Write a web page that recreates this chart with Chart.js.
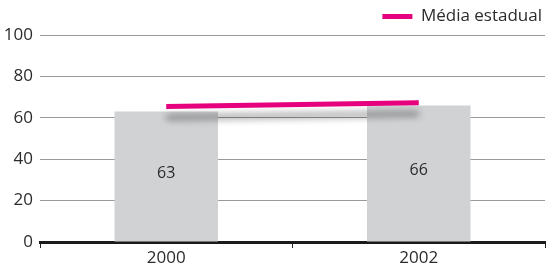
<!DOCTYPE html>
<html>
<head>
<meta charset="utf-8">
<script src="https://cdn.jsdelivr.net/npm/chart.js@4"></script>
<style>
  html, body { margin: 0; padding: 0; background: #fff; }
  #wrap { width: 550px; height: 271px; }
</style>
</head>
<body>
<div id="wrap"><canvas id="myChart"></canvas></div>
<script>
const anos = ['2000', '2002'];
const valoresMunicipio = [63, 66];
const mediaEstadual = [65.5, 67.3];
const ticksY = [0, 20, 40, 60, 80, 100];

const cinza = '#d1d2d4';
const magenta = '#e6007e';
const corTexto = '#2b2b2b';
const fonte = '"Open Sans", "Noto Sans", sans-serif';

// rotulos dentro das barras
const rotulosBarras = {
  id: 'rotulosBarras',
  afterDatasetsDraw(chart) {
    const c = chart.ctx;
    const meta = chart.getDatasetMeta(0);
    c.save();
    c.font = '16px ' + fonte;
    c.fillStyle = corTexto;
    c.textAlign = 'center';
    c.textBaseline = 'middle';
    meta.data.forEach((bar, i) => {
      const y = (bar.y + bar.base) / 2 - 3;
      c.fillText(String(valoresMunicipio[i]), bar.x, y);
    });
    c.restore();
  }
};

// sombra da linha
const sombraLinha = {
  id: 'sombraLinha',
  beforeDatasetDraw(chart, args) {
    if (args.index !== 1) return;
    const c = chart.ctx;
    c.save();
    c.shadowColor = 'rgba(0,0,0,0.4)';
    c.shadowBlur = 7;
    c.shadowOffsetY = 11;
  },
  afterDatasetDraw(chart, args) {
    if (args.index !== 1) return;
    chart.ctx.restore();
  }
};

const ctx = document.getElementById('myChart');
new Chart(ctx, {
  type: 'bar',
  data: {
    labels: anos,
    datasets: [{
      label: 'Município',
      data: valoresMunicipio,
      backgroundColor: cinza,
      borderWidth: 0,
      barPercentage: 0.82,
      categoryPercentage: 0.5,
      order: 2
    }, {
      type: 'line',
      label: 'Média estadual',
      data: mediaEstadual,
      borderColor: magenta,
      backgroundColor: magenta,
      borderWidth: 5,
      borderCapStyle: 'butt',
      pointRadius: 0,
      tension: 0,
      order: 1
    }]
  },
  options: {
    responsive: true,
    maintainAspectRatio: false,
    animation: false,
    layout: { padding: { left: 0, right: 0, top: 0, bottom: 0 } },
    plugins: {
      tooltip: { enabled: false },
      legend: {
        display: true,
        position: 'top',
        align: 'end',
        labels: {
          color: corTexto,
          font: { family: fonte, size: 17 },
          boxWidth: 30,
          boxHeight: 5,
          padding: 8,
          generateLabels: (chart) => [{
            text: 'Média estadual',
            fillStyle: magenta,
            strokeStyle: magenta,
            lineWidth: 0,
            datasetIndex: 1,
            fontColor: corTexto
          }]
        }
      }
    },
    scales: {
      x: {
        offset: true,
        grid: {
          offset: true,
          drawOnChartArea: false,
          drawTicks: true,
          tickLength: 6,
          color: '#222'
        },
        border: { display: true, color: '#1a1a1a', width: 3 },
        ticks: {
          color: corTexto,
          font: { family: fonte, size: 17 },
          padding: 0
        },
        afterFit: (scale) => { scale.height = 29; }
      },
      y: {
        min: 0,
        max: 100,
        afterBuildTicks: (scale) => {
          scale.ticks = ticksY.map(v => ({ value: v }));
        },
        grid: {
          color: '#9a9a9a',
          lineWidth: 1,
          drawTicks: false
        },
        border: { display: false },
        ticks: {
          color: corTexto,
          font: { family: fonte, size: 17 },
          padding: 7
        },
        afterFit: (scale) => { scale.width = 40; }
      },
      // eixo vazio so para deixar a margem direita
      yDir: {
        position: 'right',
        display: true,
        min: 0,
        max: 100,
        grid: { display: false },
        border: { display: false },
        ticks: { display: false },
        afterFit: (scale) => { scale.width = 5; }
      }
    }
  },
  plugins: [rotulosBarras, sombraLinha]
});
</script>
</body>
</html>
